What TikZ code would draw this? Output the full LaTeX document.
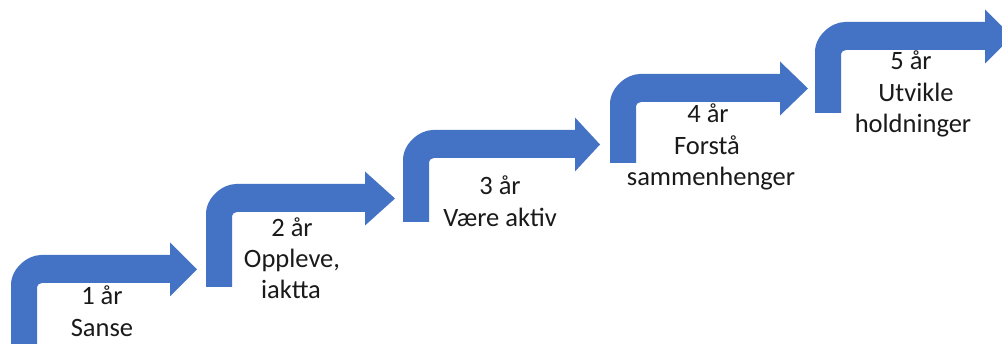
\documentclass[tikz,border=0pt]{standalone}
\usepackage{fontspec}
\setmainfont{Carlito}
\definecolor{officeblue}{HTML}{4472C4}
\definecolor{txt}{HTML}{1A1A1A}
\newcommand\mybentarrow[5]{%
\fill[arrowfill] (#1,#2) -- (#1,{#3+30}) .. controls (#1,{#3+13.4}) and ({#1+16.6},#3) .. ({#1+30},#3)
 -- (#4,#3) -- (#4,{#3-12.5}) -- (#5,{#3+14.5}) -- (#4,{#3+41.5}) -- (#4,{#3+28})
 -- ({#1+31},{#3+28}) .. controls ({#1+28.8},{#3+28}) and ({#1+26},{#3+29.8}) .. ({#1+26},{#3+32})
 -- ({#1+26},#2) -- cycle;}
\begin{document}
\begin{tikzpicture}[x=1pt,y=-1pt,
  arrowfill/.style={fill=officeblue},
  lbl/.style={text=txt,font=\fontsize{26.5pt}{32pt}\selectfont,anchor=base,inner sep=0pt}]
\useasboundingbox (0,0) rectangle (1002,344);
\fill[white] (0,0) rectangle (1002,344);
\clip (0,0) rectangle (1002,344);
\mybentarrow{11}{360}{255}{170}{197}
\mybentarrow{206}{287}{184}{365}{395}
\mybentarrow{403}{222}{130}{575}{600}
\mybentarrow{610}{163}{74}{780}{808}
\mybentarrow{815}{113}{22}{985}{1012}
\node[lbl] (l1a) at (102,305) {1 år};
\node[lbl] (l1b) at (102,337) {Sanse};
\node[lbl] (l2a) at (292,236.5) {2 år};
\node[lbl] (l2b) at (292,267.5) {Oppleve,};
\node[lbl] (l2c) at (291,298.5) {iaktta};
\node[lbl] (l3a) at (500,195) {3 år};
\node[lbl] (l3b) at (500,227) {Være aktiv};
\node[lbl] (l4a) at (708,123) {4 år};
\node[lbl] (l4b) at (707,154.5) {Forstå};
\node[lbl] (l4c) at (711,186) {sammenhenger};
\node[lbl] (l5a) at (911,70) {5 år};
\node[lbl] (l5b) at (916,101.5) {Utvikle};
\node[lbl] (l5c) at (913,133) {holdninger};
\end{tikzpicture}
\end{document}
